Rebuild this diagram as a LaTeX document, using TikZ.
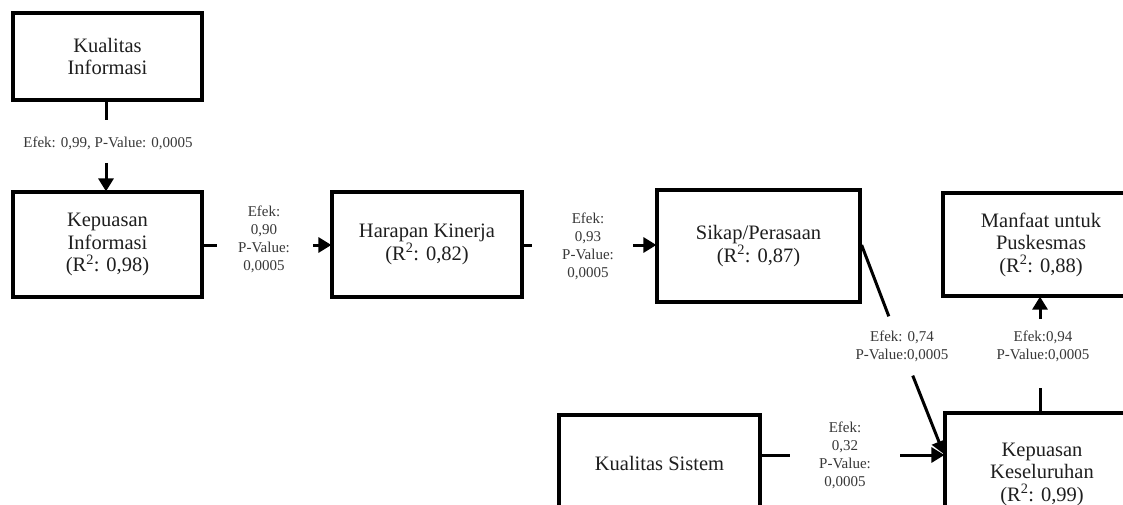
\documentclass[tikz,border=0pt]{standalone}
\usepackage{fontspec}
\setmainfont{Liberation Serif}
\usetikzlibrary{arrows.meta,calc}
\definecolor{boxtext}{HTML}{1E1E1E}
\definecolor{labtext}{HTML}{383838}
\tikzset{
  varbox/.style={draw=black, line width=3.2pt, align=center, text=boxtext,
    font=\fontsize{20.5}{22.5}\selectfont, inner sep=0pt},
  conn/.style={line width=3pt, draw=black},
  arr/.style={conn, -{Triangle[length=13pt,width=15pt]}, shorten >=-1pt},
  efek/.style={align=center, text=labtext, font=\fontsize{15}{18}\selectfont, inner sep=1pt}
}
\begin{document}
\begin{tikzpicture}[x=1pt,y=-1pt]
\useasboundingbox (0,0) rectangle (1123,505);
\fill[white] (0,0) rectangle (1123,505);
% boxes
\node[varbox, minimum width=189pt, minimum height=87pt] (ki) at (107.5,56.5) {Kualitas\\Informasi};
\node[varbox, minimum width=189pt, minimum height=105pt] (kepi) at (107.5,244.5) {Kepuasan\\Informasi\\(R\textsuperscript{2}: 0,98)};
\node[varbox, minimum width=190pt, minimum height=105pt] (hk) at (427,244.5) {Harapan Kinerja\\(R\textsuperscript{2}: 0,82)};
\node[varbox, minimum width=203pt, minimum height=112pt] (sp) at (758.5,246) {Sikap/Perasaan\\(R\textsuperscript{2}: 0,87)};
\node[varbox, minimum width=196pt, minimum height=103pt] (mp) at (1041,244.5) {Manfaat untuk\\Puskesmas\\(R\textsuperscript{2}: 0,88)};
\node[varbox, minimum width=201pt, minimum height=96pt] (ks) at (659.5,463) {Kualitas Sistem};
\node[varbox, minimum width=194pt, minimum height=122pt] (kk) at (1042,474) {Kepuasan\\Keseluruhan\\(R\textsuperscript{2}: 0,99)};
% labels
\node[efek] (l1) at (108,143) {Efek: 0,99, P-Value: 0,0005};
\node[efek] (l2) at (264,239) {Efek:\\0,90\\P-Value:\\0,0005};
\node[efek] (l3) at (588,246) {Efek:\\0,93\\P-Value:\\0,0005};
\node[efek] (l4) at (902,346) {Efek: 0,74\\P-Value:0,0005};
\node[efek] (l5) at (1043,346) {Efek:0,94\\P-Value:0,0005};
\node[efek] (l6) at (845,455) {Efek:\\0,32\\P-Value:\\0,0005};
% connectors
\coordinate (c1a) at (106,120);
\coordinate (c1b) at (106,163);
\draw[conn] (ki.south -| c1a) -- (c1a);
\draw[arr] (c1b) -- (kepi.north -| c1b);

\coordinate (c2a) at (217,245);
\coordinate (c2b) at (313,245);
\draw[conn] (kepi.east |- c2a) -- (c2a);
\draw[arr] (c2b) -- (hk.west |- c2b);

\coordinate (c3a) at (532,245);
\coordinate (c3b) at (633,245);
\draw[conn] (hk.east |- c3a) -- (c3a);
\draw[arr] (c3b) -- (sp.west |- c3b);

\coordinate (c4s) at (860,245);
\coordinate (c4t) at (944,453);
\draw[conn] (sp.east |- c4s) -- ($(c4s)!0.343!(c4t)$);
\draw[arr] ($(c4s)!0.628!(c4t)$) -- (kk.west |- c4t);

\coordinate (c5a) at (1040,388);
\coordinate (c5b) at (1040,319);
\draw[conn] (kk.north -| c5a) -- (c5a);
\draw[arr] (c5b) -- (mp.south -| c5b);

\coordinate (c6a) at (790,455);
\coordinate (c6b) at (900,455);
\draw[conn] (ks.east |- c6a) -- (c6a);
\draw[arr] (c6b) -- (kk.west |- c6b);
\end{tikzpicture}
\end{document}
